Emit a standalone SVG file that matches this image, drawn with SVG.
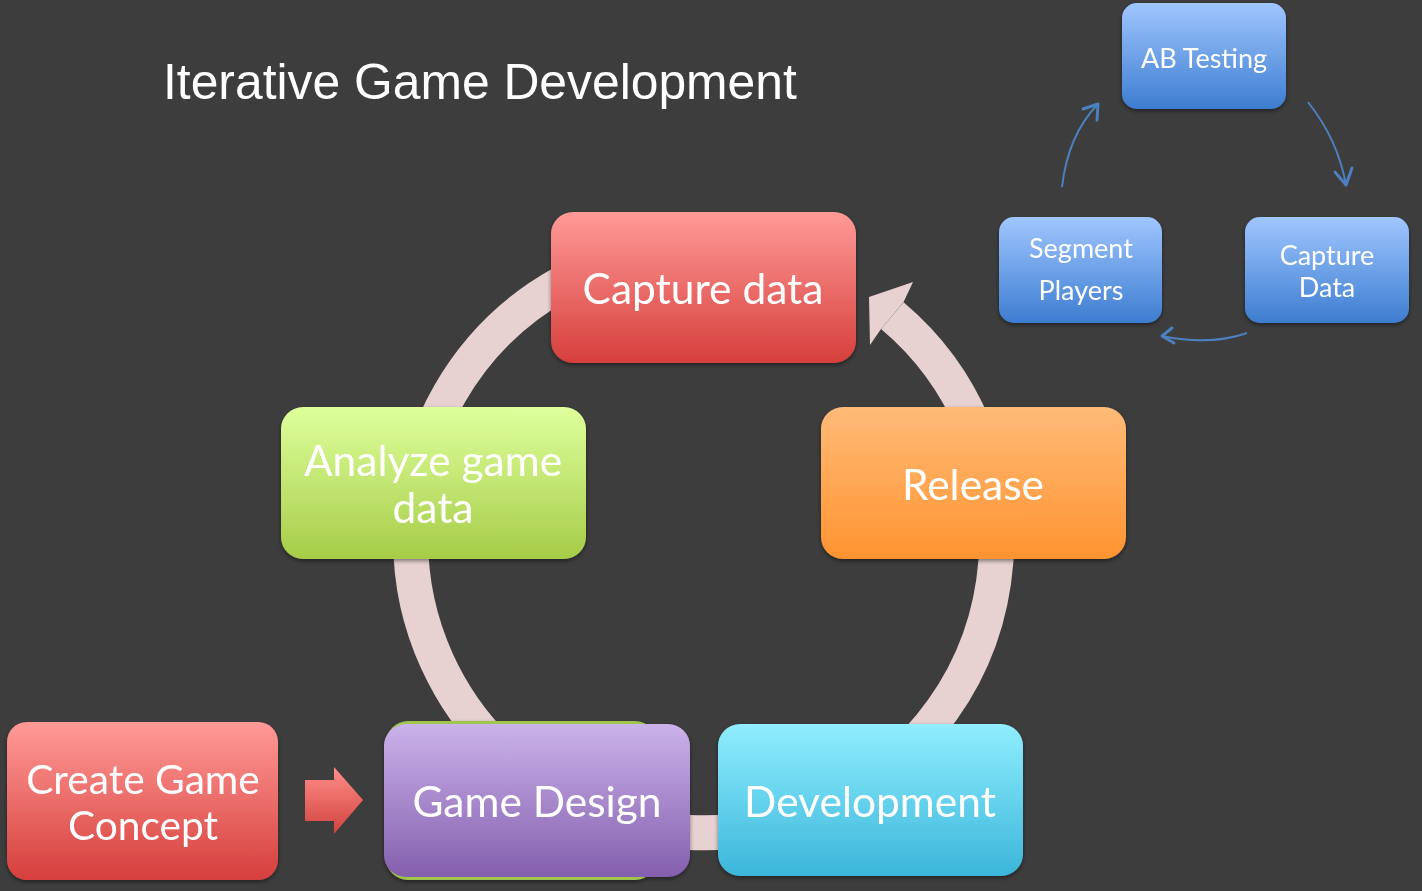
<svg xmlns="http://www.w3.org/2000/svg" width="1422" height="891" viewBox="0 0 1422 891">
<defs>
<linearGradient id="gRed" x1="0" y1="0" x2="0" y2="1"><stop offset="0" stop-color="#FF9A97"/><stop offset="1" stop-color="#D63F3C"/></linearGradient>
<linearGradient id="gGreen" x1="0" y1="0" x2="0" y2="1"><stop offset="0" stop-color="#DEFF9C"/><stop offset="1" stop-color="#A6CC48"/></linearGradient>
<linearGradient id="gOrange" x1="0" y1="0" x2="0" y2="1"><stop offset="0" stop-color="#FFBB78"/><stop offset="1" stop-color="#FF9330"/></linearGradient>
<linearGradient id="gCyan" x1="0" y1="0" x2="0" y2="1"><stop offset="0" stop-color="#90EEFF"/><stop offset="1" stop-color="#3BB6DA"/></linearGradient>
<linearGradient id="gPurple" x1="0" y1="0" x2="0" y2="1"><stop offset="0" stop-color="#CAB2EA"/><stop offset="1" stop-color="#845FAD"/></linearGradient>
<linearGradient id="gBlue" x1="0" y1="0" x2="0" y2="1"><stop offset="0" stop-color="#A0C6FF"/><stop offset="1" stop-color="#3D7DD0"/></linearGradient>
<linearGradient id="gArrow" x1="0" y1="0" x2="0" y2="1"><stop offset="0" stop-color="#FF8E8A"/><stop offset="1" stop-color="#D2423E"/></linearGradient>
<filter id="sh" x="-10%" y="-10%" width="120%" height="130%"><feDropShadow dx="0" dy="2" stdDeviation="2" flood-color="#000" flood-opacity="0.45"/></filter>
</defs>
<style>
.big{font-family:Lato,"Open Sans","Noto Sans",sans-serif;font-size:42.5px;fill:#FFFFFF;text-anchor:middle}
.mid{font-family:Lato,"Open Sans","Noto Sans",sans-serif;font-size:40.7px;fill:#FFFFFF;text-anchor:middle}
.small{font-family:Lato,"Open Sans","Noto Sans",sans-serif;font-size:27px;fill:#FFFFFF;text-anchor:middle}
.title{font-family:"Liberation Sans",Arial,sans-serif;font-size:49.8px;fill:#FFFFFF}
.ring{fill:none;stroke:#E8D1D1;stroke-width:35}
.thin{fill:none;stroke:#4C80C0;stroke-width:2}
.chev{fill:none;stroke:#4C80C0;stroke-width:3;stroke-linecap:round;stroke-linejoin:round}
</style>
<rect x="0" y="0" width="1422" height="891" fill="#3D3D3D"/>
<text class="title" x="163" y="99">Iterative Game Development</text>
<g id="connectors">
<path class="ring" d="M892.3,315.6 A293,293 0 1 1 846.0,283.7"/>
<polygon points="913,282 869,297 870,345 881,329 903.6,302" fill="#E8D1D1"/>
<polygon points="305,780 334,780 334,767 363,800 334,834 334,821 305,821" fill="url(#gArrow)"/>
<path class="thin" d="M1062,187 Q1068,135 1098,104"/>
<polyline class="chev" points="1083,109 1098,104 1097,120"/>
<path class="thin" d="M1308,102 Q1338,140 1346,185"/>
<polyline class="chev" points="1335,172 1346,185 1352,168"/>
<path class="thin" d="M1247,333 Q1210,346 1162,336"/>
<polyline class="chev" points="1172,328 1162,336 1174,343"/>
</g>
<g id="node-capture-data" filter="url(#sh)">
<rect x="551" y="212" width="305" height="151" rx="22" fill="url(#gRed)"/>
<text class="big" x="703" y="304">Capture data</text>
</g>
<g id="node-analyze" filter="url(#sh)">
<rect x="281" y="407" width="305" height="152" rx="22" fill="url(#gGreen)"/>
<text class="big" x="433" y="476">Analyze game</text>
<text class="big" x="433" y="523">data</text>
</g>
<g id="node-release" filter="url(#sh)">
<rect x="821" y="407" width="305" height="152" rx="22" fill="url(#gOrange)"/>
<text class="big" x="973" y="500">Release</text>
</g>
<g id="node-development" filter="url(#sh)">
<rect x="718" y="724" width="305" height="152" rx="22" fill="url(#gCyan)"/>
<text class="big" x="870" y="817">Development</text>
</g>
<g id="node-game-design" filter="url(#sh)">
<rect x="386" y="721" width="271" height="159" rx="22" fill="#9FC54E"/>
<rect x="384" y="724" width="306" height="153" rx="22" fill="url(#gPurple)"/>
<text class="big" x="537" y="817">Game Design</text>
</g>
<g id="node-create-concept" filter="url(#sh)">
<rect x="7" y="722" width="271" height="158" rx="20" fill="url(#gRed)"/>
<text class="mid" x="143" y="794">Create Game</text>
<text class="mid" x="143" y="840">Concept</text>
</g>
<g id="node-ab-testing" filter="url(#sh)">
<rect x="1122" y="3" width="164" height="106" rx="15" fill="url(#gBlue)"/>
<text class="small" x="1204" y="68">AB Testing</text>
</g>
<g id="node-segment" filter="url(#sh)">
<rect x="999" y="217" width="163" height="106" rx="15" fill="url(#gBlue)"/>
<text class="small" x="1081" y="258">Segment</text>
<text class="small" x="1081" y="300">Players</text>
</g>
<g id="node-capture-small" filter="url(#sh)">
<rect x="1245" y="217" width="164" height="106" rx="15" fill="url(#gBlue)"/>
<text class="small" x="1327" y="265">Capture</text>
<text class="small" x="1327" y="297">Data</text>
</g>
</svg>
